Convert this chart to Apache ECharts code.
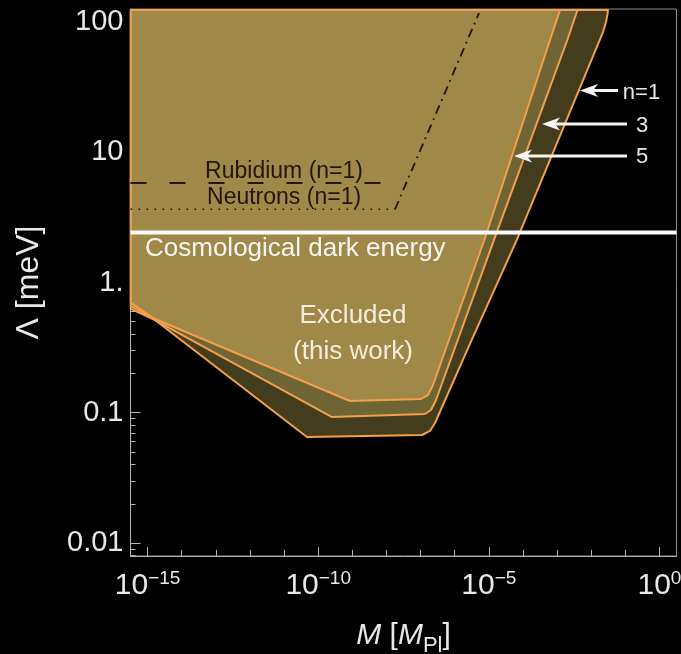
<!DOCTYPE html>
<html><head><meta charset="utf-8">
<script src="https://cdn.jsdelivr.net/npm/echarts@6/dist/echarts.min.js"></script>
<style>html,body{margin:0;padding:0;background:#000;}#c{width:681px;height:654px;}</style>
</head><body><div id="c"></div>
<script>
// Boundaries of excluded regions: log10(M / M_Pl) and log10(Λ / meV)
const n1LogM = [-15.49, -14.782, -10.328, -6.958, -6.724, -6.577, -5.501, -4.183, -1.800, -1.654, -1.566, -1.522, -1.507];
const n1LogL = [-0.203, -0.288, -1.186, -1.171, -1.140, -1.079, -0.441, 0.326, 1.831, 1.923, 2.000, 2.062, 2.092];
const n3LogM = [-15.49, -14.782, -9.595, -6.870, -6.694, -6.547, -4.819, -2.700, -2.401];
const n3LogL = [-0.180, -0.288, -1.033, -1.010, -0.979, -0.902, 0.349, 1.862, 2.092];
const n5LogM = [-15.49, -14.782, -9.068, -6.987, -6.782, -6.635, -5.112, -3.207, -2.914];
const n5LogL = [-0.157, -0.280, -0.910, -0.894, -0.864, -0.787, 0.342, 1.862, 2.092];
// Previous bounds
const rubidiumLogM = [-15.5, -8.13];
const rubidiumLogL = [0.764, 0.764];
const neutronLogM = [-15.5, -7.749];
const neutronLogL = [0.562, 0.562];
const slopeLogM = [-7.749, -5.287];
const slopeLogL = [0.562, 2.069];
const darkEnergyLogL = 0.384;
// Ticks
const xMajorTicks = [-15, -10, -5, 0];
const xMinorTicks = [-15, -14, -13, -12, -11, -10, -9, -8, -7, -6, -5, -4, -3, -2, -1, 0];
const yMajorTicks = [-2, -1, 0, 1, 2];
const yTickLabels = ['0.01', '0.1', '1.', '10', '100'];
const yMinorTicks = [];
for (let d = -3; d <= 2; d++) for (let k = 2; k <= 9; k++) {
  const v = d + Math.log10(k);
  if (v > -2.1 && v < 2.1) yMinorTicks.push(v);
}

const FONT = '"Liberation Sans", Arial, sans-serif';
const TXT = '#e8e8e8';
const ORANGE = '#f2a04c';
const TICK = '#b4b4b4';

function region(xs, ys, fill, z) {
  return {
    type: 'custom', z, silent: true, clip: false,
    data: [[xs[0], ys[0]]],
    renderItem(params, api) {
      const pts = xs.map((x, i) => api.coord([x, ys[i]]));
      pts.push(api.coord([xs[0], ys[ys.length - 1]]));
      return { type: 'polygon', shape: { points: pts },
        style: { fill, stroke: ORANGE, lineWidth: 2, lineJoin: 'round' } };
    }
  };
}
function line(xs, ys, style, z) {
  return { type: 'line', z, silent: true, symbol: 'none', data: xs.map((x, i) => [x, ys[i]]),
    lineStyle: style };
}

const annotations = [
  { text: 'Rubidium (n=1)', at: [-11.0, 0.848], size: 23, color: '#22160a', align: 'center' },
  { text: 'Neutrons (n=1)', at: [-11.0, 0.649], size: 23, color: '#22160a', align: 'center' },
  { text: 'Cosmological dark energy', at: [-15.075, 0.257], size: 26, color: '#f6f6f2', align: 'left' },
  { text: 'Excluded', at: [-8.98, -0.257], size: 26, color: '#f2eedc', align: 'center' },
  { text: '(this work)', at: [-8.98, -0.534], size: 26, color: '#f2eedc', align: 'center' },
  { text: 'n=1', at: [-0.526, 1.455], size: 22, color: TXT, align: 'center' },
  { text: '3', at: [-0.511, 1.202], size: 22, color: TXT, align: 'center' },
  { text: '5', at: [-0.511, 0.964], size: 22, color: TXT, align: 'center' }
];
// arrows: [tail logM, tip logM, logΛ]
const arrows = [[-1.214, -2.328, 1.474], [-0.951, -3.441, 1.217], [-0.951, -4.262, 0.971]];

const minorAxisCommon = { type: 'value', axisLine: { show: false, onZero: false }, splitLine: { show: false }, axisLabel: { show: false } };

const chart = echarts.init(document.getElementById('c'), null, { renderer: 'canvas' });
chart.setOption({
  backgroundColor: '#000',
  animation: false,
  grid: { left: 130.5, top: 9, width: 546, height: 547, show: true, borderColor: '#8c8c8c', borderWidth: 1,
    containLabel: false, outerBoundsMode: 'none' },
  xAxis: [
    { type: 'value', min: -15.5, max: 0.5, position: 'bottom',
      axisLine: { show: true, onZero: false, lineStyle: { color: TICK, width: 1 } },
      splitLine: { show: false },
      axisTick: { show: true, inside: true, length: 9, customValues: xMajorTicks, lineStyle: { color: TICK } },
      axisLabel: { customValues: xMajorTicks, margin: 13,
        formatter: v => '{b|10}{s|' + (Math.round(v) === 0 ? '0' : '\u2212' + Math.abs(Math.round(v))) + '}',
        rich: { b: { fontSize: 30, fontFamily: FONT, color: TXT, lineHeight: 34 },
                s: { fontSize: 19, fontFamily: FONT, color: TXT, verticalAlign: 'top', lineHeight: 19 } } },
      name: '{i|M} [{i|M}{sub|Pl}]', nameLocation: 'middle', nameGap: 65,
      nameTextStyle: { color: TXT, fontFamily: FONT, fontSize: 30,
        rich: { i: { fontStyle: 'italic', fontSize: 30, fontFamily: FONT, color: TXT },
                sub: { fontSize: 22, fontFamily: FONT, color: TXT, verticalAlign: 'bottom', lineHeight: 22, padding: [0, 0, -6, 0] } } } },
    Object.assign({ min: -15.5, max: 0.5, position: 'bottom',
      axisTick: { show: true, inside: true, length: 6, customValues: xMinorTicks, lineStyle: { color: TICK } } }, minorAxisCommon)
  ],
  yAxis: [
    { type: 'value', min: -2.1, max: 2.1, position: 'left',
      axisLine: { show: true, onZero: false, lineStyle: { color: TICK, width: 1 } },
      splitLine: { show: false },
      axisTick: { show: true, inside: true, length: 10, customValues: yMajorTicks, lineStyle: { color: TICK } },
      axisLabel: { customValues: yMajorTicks, margin: 7, fontSize: 29, fontFamily: FONT, color: TXT,
        formatter: v => yTickLabels[yMajorTicks.indexOf(Math.round(v))] },
      name: '\u039b [meV]', nameLocation: 'middle', nameGap: 85, nameRotate: 90,
      nameTextStyle: { color: TXT, fontFamily: FONT, fontSize: 32 } },
    Object.assign({ min: -2.1, max: 2.1, position: 'left',
      axisTick: { show: true, inside: true, length: 5, customValues: yMinorTicks, lineStyle: { color: TICK } } }, minorAxisCommon)
  ],
  series: [
    region(n1LogM, n1LogL, '#433c1d', 1),
    region(n3LogM, n3LogL, '#6f6434', 2),
    region(n5LogM, n5LogL, '#a08848', 3),
    line(rubidiumLogM, rubidiumLogL, { color: '#22160a', width: 2.2, type: [16, 23], cap: 'butt' }, 5),
    line(neutronLogM, neutronLogL, { color: '#22160a', width: 1.6, type: [1.6, 6.4], cap: 'butt' }, 5),
    line(slopeLogM, slopeLogL, { color: '#22160a', width: 1.8, type: [9, 5, 1.8, 5], cap: 'butt' }, 5),
    line([-15.5, 0.5], [darkEnergyLogL, darkEnergyLogL], { color: '#fafafa', width: 4 }, 6),
    { type: 'custom', z: 8, silent: true, clip: false,
      data: annotations.map(a => a.at),
      renderItem(params, api) {
        const a = annotations[params.dataIndex];
        const p = api.coord(a.at);
        return { type: 'text', x: p[0], y: p[1],
          style: { text: a.text, fill: a.color, font: a.size + 'px ' + FONT, align: a.align, verticalAlign: 'middle' } };
      } },
    { type: 'custom', z: 8, silent: true, clip: false,
      data: arrows.map(a => [a[1], a[2]]),
      renderItem(params, api) {
        const a = arrows[params.dataIndex];
        const t = api.coord([a[0], a[2]]);
        const h = api.coord([a[1], a[2]]);
        const y = h[1];
        return { type: 'group', children: [
          { type: 'line', shape: { x1: t[0], y1: y, x2: h[0] + 12, y2: y }, style: { stroke: '#f4f4f4', lineWidth: 3 } },
          { type: 'polygon', shape: { points: [[h[0], y], [h[0] + 18, y - 6.5], [h[0] + 13, y], [h[0] + 18, y + 6.5]] },
            style: { fill: '#f4f4f4' } }
        ] };
      } }
  ]
});
</script></body></html>
